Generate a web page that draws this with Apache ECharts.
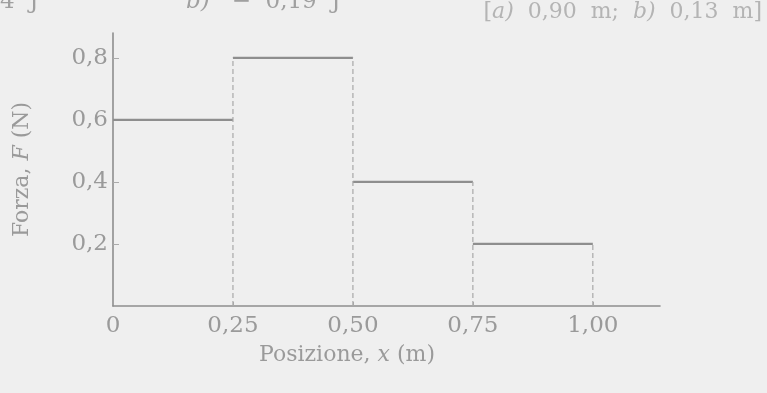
<!DOCTYPE html>
<html><head><meta charset="utf-8">
<script src="https://cdn.jsdelivr.net/npm/echarts@6/dist/echarts.min.js"></script>
<style>html,body{margin:0;padding:0;background:#efefef;}#c{width:767px;height:393px;}</style>
</head><body><div id="c"></div>
<script>
const positions = [0, 0.25, 0.50, 0.75, 1.00];
const forces = [0.6, 0.8, 0.4, 0.2];
const xTicks = [0, 0.25, 0.5, 0.75, 1.0];
const xTickLabels = ['0', '0,25', '0,50', '0,75', '1,00'];
const yTicks = [0.2, 0.4, 0.6, 0.8];
const yTickLabels = ['0,2', '0,4', '0,6', '0,8'];

const textCol = '#9a9a9a';
const lineCol = '#8e8e8e';
const font = 'DejaVu Serif';

const series = [];
forces.forEach((f, i) => {
  series.push({type: 'line', symbol: 'none', silent: true,
    data: [[positions[i], f], [positions[i + 1], f]],
    lineStyle: {color: lineCol, width: 2.2}});
});
for (let i = 1; i < positions.length; i++) {
  const h = Math.max(forces[i - 1], i < forces.length ? forces[i] : 0);
  series.push({type: 'line', symbol: 'none', silent: true,
    data: [[positions[i], 0], [positions[i], h]],
    lineStyle: {color: '#a8a8a8', width: 1.2, type: [5, 3]}});
}

const rich = (size, col) => ({
  n: {color: col || textCol, fill: col || textCol, fontFamily: font, fontSize: size},
  i: {color: col || textCol, fill: col || textCol, fontFamily: font, fontSize: size, fontStyle: 'italic'}
});

const chart = echarts.init(document.getElementById('c'));
chart.setOption({
  backgroundColor: '#efefef',
  animation: false,
  grid: {left: 113, right: 107, top: 33, bottom: 87, containLabel: false},
  xAxis: {type: 'value', min: 0, max: 1.14,
    axisLine: {show: true, lineStyle: {color: lineCol, width: 1.6}},
    axisTick: {show: true, inside: true, length: 4, customValues: xTicks.slice(1), lineStyle: {color: '#aaa'}},
    splitLine: {show: false},
    axisLabel: {customValues: xTicks, margin: 9, color: textCol, fontFamily: font, fontSize: 23,
      formatter: v => { const i = xTicks.findIndex(t => Math.abs(t - v) < 1e-6); return i >= 0 ? xTickLabels[i] : ''; }}
  },
  yAxis: {type: 'value', min: 0, max: 0.88,
    axisLine: {show: true, lineStyle: {color: lineCol, width: 1.6}},
    axisTick: {show: true, inside: true, length: 6, customValues: yTicks, lineStyle: {color: '#aaa'}},
    splitLine: {show: false},
    axisLabel: {customValues: yTicks, margin: 5, color: textCol, fontFamily: font, fontSize: 23,
      formatter: v => { const i = yTicks.findIndex(t => Math.abs(t - v) < 1e-6); return i >= 0 ? yTickLabels[i] : ''; }},
    name: '{n|Forza, }{i|F}{n| (N)}', nameLocation: 'middle', nameGap: 80, nameRotate: 90,
    nameTextStyle: {rich: rich(22)}
  },
  graphic: [
    {type: 'text', x: 347, y: 344, style: {rich: rich(22), text: '{n|Posizione, }{i|x}{n| (m)}', align: 'center'}},
    {type: 'text', left: 0, top: -9, style: {text: '4  J', fill: '#a0a0a0', font: '23px "DejaVu Serif"'}},
    {type: 'text', left: 186, top: -9, style: {rich: rich(23, '#a0a0a0'), text: '{i|b)}{n|   −  0,19  J}'}},
    {type: 'text', right: 5, top: 1, style: {rich: rich(22, '#b4b4b4'), text: '{n|[}{i|a)}{n|  0,90  m;  }{i|b)}{n|  0,13  m]}'}}
  ],
  series: series
});
</script></body></html>
